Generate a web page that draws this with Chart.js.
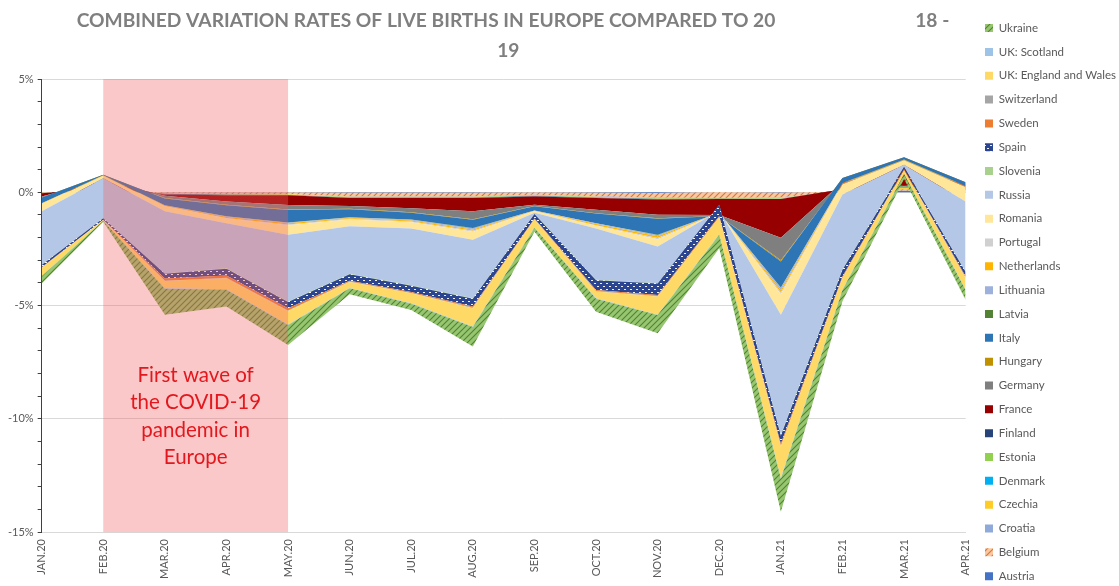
<!DOCTYPE html>
<html>
<head>
<meta charset="utf-8">
<title>Live births in Europe</title>
<script src="https://cdn.jsdelivr.net/npm/chart.js@4.4.0/dist/chart.umd.min.js"></script>
<style>
  html, body { margin: 0; padding: 0; background: #fff; }
  #wrap { width: 1119px; height: 586px; }
</style>
</head>
<body>
<div id="wrap"><canvas id="births"></canvas></div>
<script>
// months on the x axis
const months = ['JAN.20', 'FEB.20', 'MAR.20', 'APR.20', 'MAY.20', 'JUN.20', 'JUL.20', 'AUG.20',
  'SEP.20', 'OCT.20', 'NOV.20', 'DEC.20', 'JAN.21', 'FEB.21', 'MAR.21', 'APR.21'];

// variation rate per country (% points of the combined rate)
const austria     = [-0.01, 0.05, -0.01, -0.01, -0.01, -0.02, -0.02, -0.02, -0.01, -0.02, -0.03, 0, -0.02, 0.03, 0.08, 0.02];
const belgium     = [-0.01, 0, -0.03, -0.06, -0.07, -0.15, -0.15, -0.15, -0.1, -0.15, -0.2, -0.25, -0.2, 0.02, 0.06, 0.02];
const croatia     = [0, 0.02, -0.01, -0.01, -0.01, -0.02, -0.02, -0.02, -0.01, -0.02, -0.02, 0, -0.02, 0.01, 0.02, 0.01];
const czechia     = [-0.01, 0.03, -0.01, -0.02, -0.02, -0.03, -0.03, -0.03, -0.02, -0.03, -0.03, -0.02, -0.03, 0.03, 0.04, 0.02];
const denmark     = [0, 0.01, 0, 0, 0, -0.01, -0.01, -0.01, -0.01, -0.01, -0.01, 0, -0.01, 0.01, 0.03, 0.01];
const estonia     = [0, 0.01, 0, -0.01, -0.01, -0.01, -0.01, -0.01, -0.01, -0.01, -0.01, -0.01, -0.01, 0.01, 0.04, 0.01];
const finland     = [-0.01, 0.05, -0.04, -0.02, -0.01, -0.01, -0.01, -0.01, -0.02, -0.01, -0.02, -0.02, -0.01, 0.03, 0.05, 0.03];
const france      = [-0.14, 0.35, -0.05, -0.27, -0.43, -0.35, -0.45, -0.59, -0.37, -0.52, -0.67, -0.7, -1.7, 0.3, 0.85, 0.22];
const germany     = [-0.05, 0.2, -0.1, -0.15, -0.2, -0.13, -0.18, -0.35, -0.05, -0.15, -0.15, -0.05, -1.0, 0.15, 0.3, 0.09];
const hungary     = [0, 0.06, -0.02, -0.02, -0.02, -0.02, -0.02, -0.02, -0.01, -0.02, -0.03, 0, -0.05, 0.04, 0.08, 0.02];
const italy       = [-0.25, -0.03, -0.3, -0.49, -0.55, -0.35, -0.3, -0.37, -0.19, -0.42, -0.7, 0.15, -1.15, -0.22, -0.1, -0.17];
const latvia      = [0, 0, -0.01, -0.01, -0.01, -0.01, -0.01, -0.02, 0, -0.01, -0.02, 0, -0.02, 0, 0, 0];
const lithuania   = [-0.01, 0, -0.01, -0.02, -0.03, -0.02, -0.03, -0.04, -0.01, -0.03, -0.05, 0, -0.1, -0.01, 0, -0.01];
const netherlands = [-0.02, -0.01, -0.02, -0.04, -0.05, -0.04, -0.05, -0.06, -0.02, -0.05, -0.08, 0, -0.1, -0.02, -0.02, -0.02];
const portugal    = [-0.01, 0, -0.01, -0.03, -0.03, -0.03, -0.03, -0.04, -0.01, -0.03, -0.05, 0, -0.08, -0.02, -0.01, -0.01];
const romania     = [-0.32, -0.12, -0.22, -0.2, -0.42, -0.3, -0.28, -0.35, -0.06, -0.12, -0.32, 0.1, -0.9, -0.46, -0.2, -0.64];
const russia      = [-2.36, -1.76, -2.74, -1.99, -2.95, -2.1, -2.5, -2.59, -0.05, -2.26, -1.62, 0.25, -5.3, -3.3, -0.1, -3.1];
const slovenia    = [-0.01, -0.01, -0.02, -0.02, -0.02, -0.02, -0.02, -0.02, -0.01, -0.02, -0.02, 0, -0.05, -0.02, -0.01, -0.02];
const spain       = [-0.1, -0.06, -0.2, -0.3, -0.28, -0.28, -0.28, -0.34, -0.2, -0.43, -0.5, -0.5, -0.35, -0.3, -0.08, -0.2];
const sweden      = [-0.02, -0.01, -0.1, -0.1, -0.1, -0.04, -0.04, -0.05, -0.03, -0.05, -0.05, -0.05, -0.1, -0.05, -0.02, -0.05];
const switzerland = [-0.01, 0, -0.02, -0.02, -0.02, -0.02, -0.02, -0.03, -0.01, -0.02, -0.02, 0, -0.02, -0.02, -0.01, -0.02];
const ukEngland   = [-0.35, -0.03, -0.32, -0.49, -0.6, -0.26, -0.44, -0.8, -0.35, -0.3, -0.8, -0.75, -1.38, -0.5, -0.2, -0.5];
const ukScotland  = [-0.01, 0, -0.02, -0.02, -0.02, -0.02, -0.02, -0.03, -0.01, -0.02, -0.02, -0.02, -0.05, -0.02, -0.01, -0.02];
const ukraine     = [-0.32, -0.05, -1.15, -0.74, -0.88, -0.26, -0.28, -0.86, -0.18, -0.57, -0.8, -0.6, -1.45, -0.5, -0.2, -0.44];

// y axis range (%)
const yMin = -15;
const yMax = 5;

// shaded period and its caption
const waveFrom = 'FEB.20';
const waveTo = 'MAY.20';
const waveText = ['First wave of', 'the COVID-19', 'pandemic in', 'Europe'];

// stacking order, first one sits against the 0% line
const series = [
  ['Austria', austria], ['Belgium', belgium], ['Croatia', croatia], ['Czechia', czechia],
  ['Denmark', denmark], ['Estonia', estonia], ['Finland', finland], ['France', france],
  ['Germany', germany], ['Hungary', hungary], ['Italy', italy], ['Latvia', latvia],
  ['Lithuania', lithuania], ['Netherlands', netherlands], ['Portugal', portugal], ['Romania', romania],
  ['Russia', russia], ['Slovenia', slovenia], ['Spain', spain], ['Sweden', sweden],
  ['Switzerland', switzerland], ['UK: England and Wales', ukEngland], ['UK: Scotland', ukScotland], ['Ukraine', ukraine]
];

// little repeating tiles for the patterned series
function makePattern(bg, fg, kind) {
  const size = 6;
  const c = document.createElement('canvas');
  c.width = c.height = size;
  const g = c.getContext('2d');
  g.fillStyle = bg;
  g.fillRect(0, 0, size, size);
  if (kind === 'diag') {
    g.strokeStyle = fg;
    g.lineWidth = 1.1;
    g.beginPath();
    g.moveTo(0, size); g.lineTo(size, 0);
    g.moveTo(-1, 1); g.lineTo(1, -1);
    g.moveTo(size - 1, size + 1); g.lineTo(size + 1, size - 1);
    g.stroke();
  } else {
    // white dashes in a staggered grid
    g.fillStyle = fg;
    g.fillRect(0, 1, 2, 1);
    g.fillRect(3, 4, 2, 1);
  }
  return g.createPattern(c, 'repeat');
}

const colours = {
  'Austria': '#4472C4',
  'Belgium': makePattern('#F8C8A4', '#E0742C', 'diag'),
  'Croatia': '#8FA9DA',
  'Czechia': '#FFCC26',
  'Denmark': '#00B0F0',
  'Estonia': '#92D050',
  'Finland': '#264478',
  'France': '#960000',
  'Germany': '#7F7F7F',
  'Hungary': '#BF9000',
  'Italy': '#2E75B6',
  'Latvia': '#548235',
  'Lithuania': '#9DB1DC',
  'Netherlands': '#FFB400',
  'Portugal': '#D0D0D0',
  'Romania': '#FFE699',
  'Russia': '#B4C7E7',
  'Slovenia': '#A9D18E',
  'Spain': makePattern('#2B4590', '#F2F2F2', 'dots'),
  'Sweden': '#ED7D31',
  'Switzerland': '#A5A5A5',
  'UK: England and Wales': '#FFD966',
  'UK: Scotland': '#9DC3E6',
  'Ukraine': makePattern('#96C770', '#557F36', 'diag')
};

// running totals, like an Excel stacked area (positives and negatives in one stack)
const running = months.map(() => 0);
const levels = series.map(([, vals]) => vals.map((v, k) => (running[k] += v)));

// Ukraine first so it is drawn last (on top) and heads the legend
const datasets = series.map(([name], i) => ({
  label: name,
  data: levels[i],
  backgroundColor: colours[name],
  borderColor: 'rgba(0,0,0,0)',
  borderWidth: 0,
  pointRadius: 0,
  tension: 0,
  fill: i === 0 ? 'origin' : '+1'
})).reverse();

const firstWave = {
  id: 'firstWave',
  afterDatasetsDraw(chart) {
    const { ctx, chartArea, scales: { x, y } } = chart;
    const left = x.getPixelForValue(months.indexOf(waveFrom));
    const right = x.getPixelForValue(months.indexOf(waveTo));
    ctx.save();
    ctx.fillStyle = 'rgba(241, 98, 98, 0.35)';
    ctx.fillRect(left, chartArea.top, right - left, chartArea.bottom - chartArea.top);

    ctx.fillStyle = '#E3171D';
    ctx.font = '20.5px Lato';
    ctx.textAlign = 'center';
    ctx.textBaseline = 'middle';
    const mid = y.getPixelForValue(-9.9);
    const step = 27.5;
    waveText.forEach((line, k) => {
      ctx.fillText(line, (left + right) / 2, mid + (k - (waveText.length - 1) / 2) * step);
    });
    ctx.restore();
  }
};

// nudge the legend column to where Excel put it
const legendNudge = {
  id: 'legendNudge',
  afterLayout(chart) {
    const lg = chart.legend;
    lg.top += 9.1;
    lg.bottom += 9.1;
    lg.left += 7;
    lg.right += 7;
  }
};

Chart.defaults.font.family = 'Lato, "Liberation Sans", sans-serif';

new Chart(document.getElementById('births'), {
  type: 'line',
  data: { labels: months, datasets },
  options: {
    responsive: true,
    maintainAspectRatio: false,
    animation: false,
    events: [],
    layout: { padding: { left: 4, right: 0, top: 0, bottom: 0 } },
    scales: {
      x: {
        offset: false,
        grid: { display: false, drawTicks: false },
        border: { color: '#D9D9D9' },
        ticks: {
          autoSkip: false, maxRotation: 90, minRotation: 90,
          color: '#595959', font: { size: 11 }, padding: 7
        }
      },
      y: {
        min: yMin,
        max: yMax,
        ticks: {
          stepSize: 1, autoSkip: false, color: '#595959', font: { size: 11 }, padding: 4,
          callback: v => (v % 5 === 0 ? v + '%' : '')
        },
        grid: {
          color: c => (c.tick && c.tick.value % 5 === 0 ? '#D9D9D9' : 'rgba(0,0,0,0)'),
          tickColor: '#404040',
          tickLength: 4
        },
        border: { color: '#404040', width: 1 }
      }
    },
    plugins: {
      title: {
        display: true,
        fullSize: false,
        text: [
          '    COMBINED VARIATION RATES OF LIVE BIRTHS IN EUROPE COMPARED TO 20' + ' '.repeat(30) + '18 -',
          '  19'
        ],
        color: '#7F7F7F',
        font: { size: 19.2, weight: 'bold', lineHeight: 1.52 },
        padding: { top: 6.6, bottom: 14.1 }
      },
      legend: {
        position: 'right',
        align: 'center',
        labels: {
          boxWidth: 8, boxHeight: 8, padding: 12.33,
          color: '#595959', font: { size: 11.5 }
        }
      },
      tooltip: { enabled: false }
    }
  },
  plugins: [firstWave, legendNudge]
});
</script>
</body>
</html>
